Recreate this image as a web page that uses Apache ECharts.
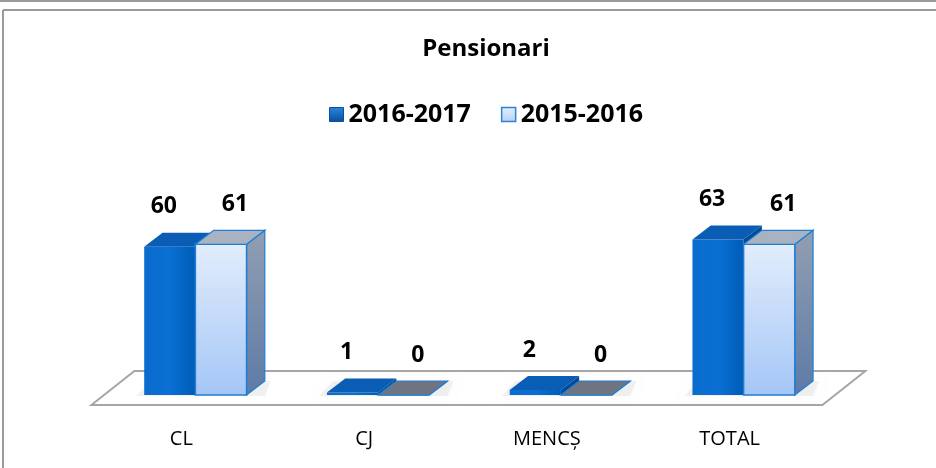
<!DOCTYPE html>
<html><head><meta charset="utf-8">
<script src="https://cdn.jsdelivr.net/npm/echarts@6/dist/echarts.min.js"></script>
<style>html,body{margin:0;padding:0;background:#fff}#c{width:936px;height:468px}</style>
</head><body><div id="c"></div>
<script>
const categories = ['CL', 'CJ', 'MENCȘ', 'TOTAL'];
const seriesNames = ['2016-2017', '2015-2016'];
const values2016_2017 = [60, 1, 2, 63];
const values2015_2016 = [61, 0, 0, 61];
const titleText = 'Pensionari';

const FONT = '"Open Sans", "Noto Sans", sans-serif';
const chart = echarts.init(document.getElementById('c'), null, {renderer: 'canvas'});

function lin(x0, y0, x1, y1, stops) {
  return new echarts.graphic.LinearGradient(x0, y0, x1, y1, stops.map((c, i) => ({offset: i / (stops.length - 1), color: c})));
}

function renderFloor(params, api) {
  const cs = params.coordSys;
  const y0 = api.coord([0, 0])[1];
  const xl = cs.x, xr = cs.x + cs.width;
  const fx = -12.6, fy = 10, bx = 30.4, by = -24;
  return {
    type: 'polygon', silent: true,
    shape: {points: [[xl + fx, y0 + fy], [xl + bx, y0 + by], [xr + bx, y0 + by], [xr + fx, y0 + fy]]},
    style: {fill: '#fff', stroke: '#a6a6a6', lineWidth: 2}
  };
}

function makeBarRenderer(side) {
  return function (params, api) {
    const idx = api.value(0), v = api.value(1);
    const base = api.coord([idx, 0]);
    const top = api.coord([idx, v]);
    const bw = api.size([1, 0])[0];
    const w = bw * 0.28, dx = bw * 0.1, dy = -14;
    const x0 = side === 0 ? base[0] - w : base[0];
    const x1 = x0 + w;
    const yb = base[1], yt = top[1];
    const children = [];
    if (side === 0) {
      children.push({
        type: 'polygon', silent: true,
        shape: {points: [[x0 - 8, yb + 1], [x1 + w + dx, yb + 1], [x1 + w + dx + 6, yb + dy], [x0 + dx - 12, yb + dy]]},
        style: {fill: 'rgba(0,0,0,0.05)', shadowBlur: 9, shadowColor: 'rgba(0,0,0,0.28)'}
      });
      children.push({
        type: 'polygon', shape: {points: [[x1, yt], [x1 + dx, yt + dy], [x1 + dx, yb + dy], [x1, yb]]},
        style: {fill: '#004a98'}
      });
      children.push({
        type: 'rect', shape: {x: x0, y: yt, width: w, height: yb - yt},
        style: {fill: lin(0, 0, 1, 0, ['#0a6ccc', '#0a70d4', '#005cb6'])}
      });
      children.push({
        type: 'polygon', shape: {points: [[x0, yt], [x1, yt], [x1 + dx, yt + dy], [x0 + dx, yt + dy]]},
        style: {fill: '#0a5db4'}
      });
      children.push({
        type: 'text', silent: true,
        style: {text: String(v), x: base[0] - w / 2 - 6, y: yt - 40, align: 'center', verticalAlign: 'middle',
          fontFamily: FONT, fontWeight: 'bold', fontSize: 23, fill: '#000'}
      });
    } else {
      children.push({
        type: 'polygon', shape: {points: [[x1, yt], [x1 + dx, yt + dy], [x1 + dx, yb + dy], [x1, yb]]},
        style: {fill: lin(0, 0, 0, 1, ['#929fb2', '#5d7aa6']), stroke: '#1f7fd6', lineWidth: 1.2}
      });
      children.push({
        type: 'rect', shape: {x: x0, y: yt, width: w, height: yb - yt},
        style: {fill: lin(0, 0, 0, 1, ['#e2edfc', '#a4c6f6']), stroke: '#1f7fd6', lineWidth: 1.5}
      });
      children.push({
        type: 'polygon', shape: {points: [[x0, yt], [x1, yt], [x1 + dx, yt + dy], [x0 + dx, yt + dy]]},
        style: {fill: v === 0 ? '#6f7580' : '#a8b2c1', stroke: '#1f7fd6', lineWidth: 1.2}
      });
      children.push({
        type: 'text', silent: true,
        style: {text: String(v), x: base[0] + w / 2 + 14, y: yt - 40, align: 'center', verticalAlign: 'middle',
          fontFamily: FONT, fontWeight: 'bold', fontSize: 23, fill: '#000'}
      });
    }
    return {type: 'group', children};
  };
}

const darkIcon = lin(0, 0, 0, 1, ['#2a86e0', '#0a4f9e']);
const lightIcon = lin(0, 0, 0, 1, ['#e6effc', '#b4d0f6']);

chart.setOption({
  animation: false,
  backgroundColor: '#fff',
  title: {
    text: titleText, left: 481, top: 32, textAlign: 'center',
    textStyle: {fontFamily: FONT, fontWeight: 'bold', fontSize: 24, color: '#000'}
  },
  legend: {
    left: 324, top: 97, itemWidth: 14, itemHeight: 14, itemGap: 30,
    textStyle: {fontFamily: FONT, fontWeight: 'bold', fontSize: 25, color: '#000'},
    data: [
      {name: seriesNames[0], icon: 'rect', itemStyle: {color: darkIcon, borderColor: '#0a4f9e', borderWidth: 1}},
      {name: seriesNames[1], icon: 'rect', itemStyle: {color: lightIcon, borderColor: '#2a84d8', borderWidth: 1.5}}
    ]
  },
  grid: {left: 104, right: 101, top: 148, bottom: 73},
  xAxis: {
    type: 'category', data: categories,
    axisLine: {show: false}, axisTick: {show: false}, splitLine: {show: false},
    axisLabel: {fontFamily: FONT, fontSize: 20, color: '#000', margin: 34, padding: [0, 28, 0, 0]}
  },
  yAxis: {type: 'value', min: 0, max: 100, show: false},
  series: [
    {type: 'custom', name: 'floor', renderItem: renderFloor, data: [[0, 0]], silent: true, z: 1, legendHoverLink: false},
    {type: 'custom', name: seriesNames[0], renderItem: makeBarRenderer(0), z: 2,
      itemStyle: {color: '#0a5db4'}, data: values2016_2017.map((v, i) => [i, v])},
    {type: 'custom', name: seriesNames[1], renderItem: makeBarRenderer(1), z: 3,
      itemStyle: {color: '#cfe0fa'}, data: values2015_2016.map((v, i) => [i, v])}
  ],
  graphic: [
    {type: 'line', shape: {x1: 0, y1: 1, x2: 936, y2: 1}, style: {stroke: '#9a9a9a', lineWidth: 2}},
    {type: 'line', shape: {x1: 3, y1: 10, x2: 936, y2: 10}, style: {stroke: '#9a9a9a', lineWidth: 2}},
    {type: 'line', shape: {x1: 3, y1: 10, x2: 3, y2: 468}, style: {stroke: '#9a9a9a', lineWidth: 2}}
  ]
});
</script></body></html>
